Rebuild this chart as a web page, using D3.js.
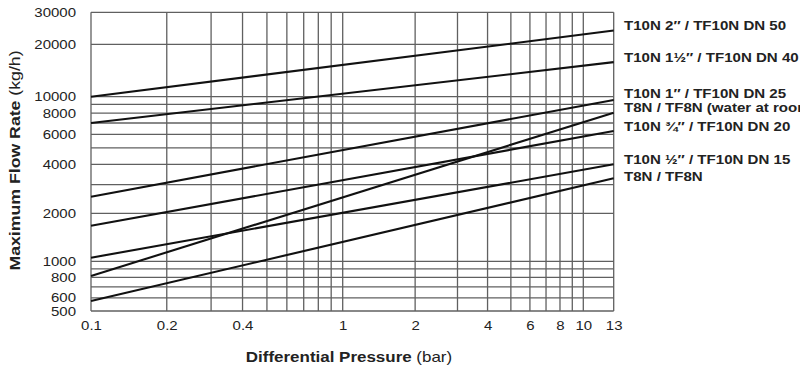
<!DOCTYPE html>
<html><head><meta charset="utf-8">
<script src="https://cdn.jsdelivr.net/npm/d3@7"></script>
<style>body{margin:0;background:#fff;}svg{display:block;font-family:"Liberation Sans",Arial,sans-serif;}</style>
</head><body><svg id="c" width="800" height="368"></svg>
<script>
const seriesNames = [
  "T10N 2\u2033 / TF10N DN 50",
  "T10N 1\u00bd\u2033 / TF10N DN 40",
  "T10N 1\u2033 / TF10N DN 25",
  "T8N / TF8N (water at room temperature)",
  "T10N \u00be\u2033 / TF10N DN 20",
  "T10N \u00bd\u2033 / TF10N DN 15",
  "T8N / TF8N"
];
const pressureRange = [0.1, 13];
const flowAtLow  = [10000, 7000, 2530, 815, 1670, 1053, 575];
const flowAtHigh = [23800, 15800, 9570, 8050, 6280, 4000, 3280];
const labelOffsets = [-4.7, -4.7, -6.7, -5, -4.3, -5, -1.6];
const xTicks = [0.1, 0.2, 0.4, 1, 2, 4, 6, 8, 10, 13];
const xGrid = [0.1,0.2,0.3,0.4,0.5,0.6,0.7,0.8,0.9,1,2,3,4,5,6,7,8,9,10,13];
const yTicks = [30000, 20000, 10000, 8000, 6000, 4000, 2000, 1000, 800, 600, 500];
const yGrid = [500,600,700,800,900,1000,2000,3000,4000,5000,6000,7000,8000,9000,10000,20000,30000];

const svg = d3.select("#c");
const x = d3.scaleLog().domain([0.1, 1, 10, 13]).range([91, 342.7, 583.3, 613.7]);
const y = d3.scaleLog().domain([500, 1000, 2000, 4000, 10000, 20000, 30000])
  .range([311, 261.3, 213.3, 164.3, 96.7, 44.3, 12.3]);

const grid = svg.append("g").attr("stroke", "#606060").attr("stroke-width", 1.3);
grid.selectAll("line.v").data(xGrid).join("line").attr("class","v")
  .attr("x1", d => x(d)).attr("x2", d => x(d)).attr("y1", y(30000)).attr("y2", y(500));
grid.selectAll("line.h").data(yGrid).join("line").attr("class","h")
  .attr("y1", d => y(d)).attr("y2", d => y(d)).attr("x1", x(0.1)).attr("x2", x(13));

const line = d3.line().x(d => x(d[0])).y(d => y(d[1]));
const data = seriesNames.map((n, i) => ({name: n, pts: [[pressureRange[0], flowAtLow[i]], [pressureRange[1], flowAtHigh[i]]]}));
svg.append("g").selectAll("path").data(data).join("path")
  .attr("d", d => line(d.pts)).attr("fill", "none").attr("stroke", "#111").attr("stroke-width", 2.1);

svg.append("g").selectAll("text").data(data).join("text")
  .attr("transform", (d, i) => `translate(624,${y(flowAtHigh[i]) + labelOffsets[i]}) scale(1.16,1)`)
  .attr("dy", "0.35em").attr("font-size", 13).attr("font-weight", "bold").attr("fill", "#222")
  .text(d => d.name);

const xAxis = d3.axisBottom(x).tickValues(xTicks).tickSize(0).tickPadding(10).tickFormat(d3.format("~g"));
const gx = svg.append("g").attr("transform", `translate(0,${y(500)})`).call(xAxis);
gx.select(".domain").remove();
gx.selectAll("text").attr("font-size", 12.5).attr("fill", "#222").attr("font-family", "Liberation Sans, Arial, sans-serif")
  .attr("transform", "scale(1.2,1)");

const yAxis = d3.axisLeft(y).tickValues(yTicks).tickSize(0).tickPadding(15).tickFormat(d3.format("d"));
const gy = svg.append("g").attr("transform", `translate(${x(0.1)},0)`).call(yAxis);
gy.select(".domain").remove();
gy.selectAll("text").attr("font-size", 12.5).attr("fill", "#222").attr("font-family", "Liberation Sans, Arial, sans-serif")
  .attr("x", -15 / 1.2).attr("transform", "scale(1.2,1)");

const xt = svg.append("text").attr("transform", "translate(349,362) scale(1.17,1)").attr("text-anchor", "middle")
  .attr("font-size", 14.5).attr("fill", "#222");
xt.append("tspan").attr("font-weight", "bold").text("Differential Pressure");
xt.append("tspan").text(" (bar)");

const yt = svg.append("text").attr("transform", "translate(20,160.5) rotate(-90) scale(1.18,1)").attr("text-anchor", "middle")
  .attr("font-size", 15).attr("fill", "#222");
yt.append("tspan").attr("font-weight", "bold").text("Maximum Flow Rate");
yt.append("tspan").text(" (kg/h)");
</script></body></html>
